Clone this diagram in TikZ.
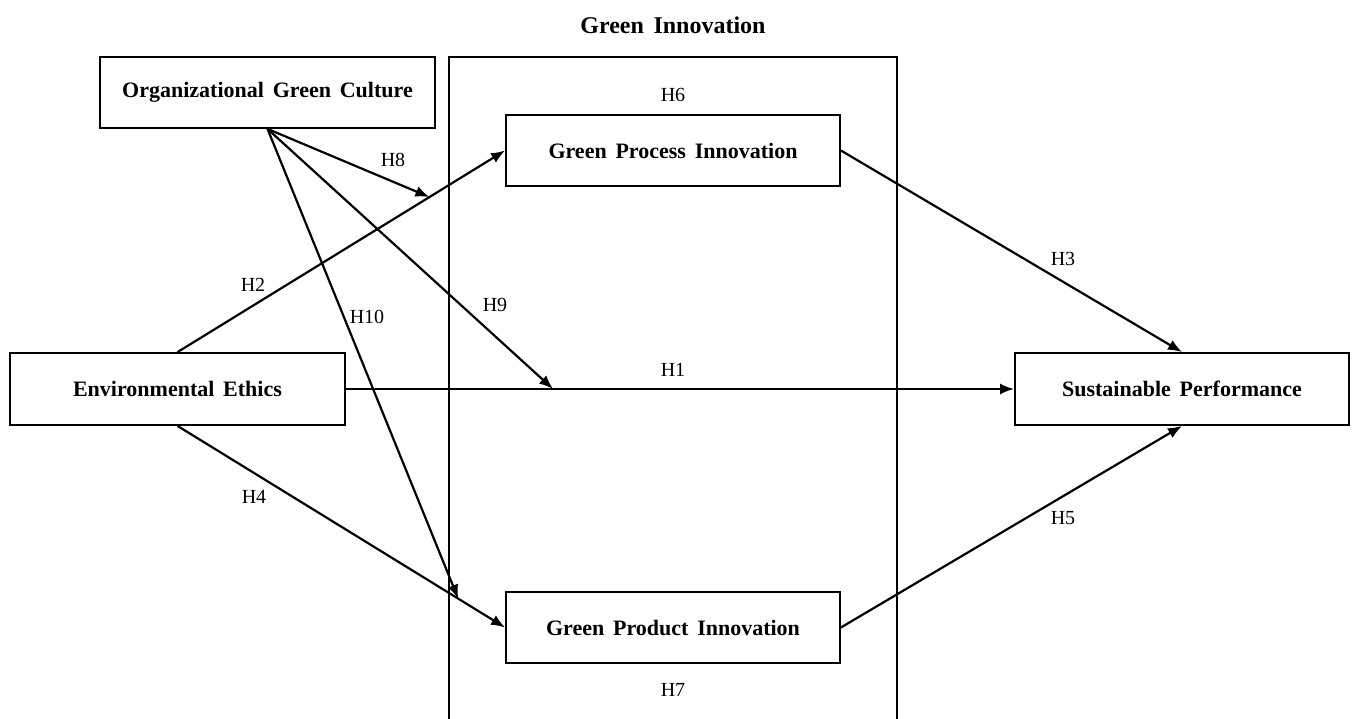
\documentclass[tikz,border=0pt]{standalone}
\usepackage{fontspec}
\setmainfont{Liberation Serif}[WordSpace={1.6}]
\usetikzlibrary{arrows.meta,calc}
\begin{document}
\begin{tikzpicture}[x=1pt,y=-1pt,
  box/.style={draw,line width=1.8pt,minimum width=334pt,minimum height=71pt,inner sep=0pt,font=\fontsize{22}{26}\selectfont\bfseries},
  arr/.style={line width=2.2pt,-{Latex[length=14pt,width=11pt]}},
  lab/.style={font=\fontsize{20}{24}\selectfont,inner sep=0pt}]
\useasboundingbox (0,0) rectangle (1352,719);
\fill[white] (0,0) rectangle (1352,719);
% green innovation frame
\draw[line width=1.8pt] (449,722) -- (449,57) -- (897,57) -- (897,722);
\node[lab,font=\fontsize{24}{28}\selectfont\bfseries] (title) at (673,25) {Green Innovation};
% boxes
\node[box,minimum width=335pt] (ogc) at (267.5,92.5) {Organizational Green Culture};
\node[box] (gpi) at (673,150.5) {Green Process Innovation};
\node[box] (gpd) at (673,627.5) {Green Product Innovation};
\node[box,minimum width=335pt,minimum height=72pt] (ee) at (177.5,389) {Environmental Ethics};
\node[box,minimum height=72pt] (sp) at (1182,389) {Sustainable Performance};
% main paths
\draw[arr] (ee.north) -- (gpi.west);
\draw[arr] (ee.east) -- (sp.west);
\draw[arr] (ee.south) -- (gpd.west);
\draw[arr] (gpi.east) -- (sp.north);
\draw[arr] (gpd.east) -- (sp.south);
% moderation end points
\coordinate (m8) at ($(ee.north)!0.769!(gpi.west)$);
\coordinate (m9) at ($(ee.east)!0.31!(sp.west)$);
\coordinate (m10) at ($(ee.south)!0.857!(gpd.west)$);
\draw[arr] (ogc.south) -- (m8);
\draw[arr] (ogc.south) -- (m9);
\draw[arr] (ogc.south) -- (m10);
% labels
\node[lab] (h1) at (673,370) {H1};
\node[lab] (h2) at (253,285) {H2};
\node[lab] (h3) at (1063,259) {H3};
\node[lab] (h4) at (254,497) {H4};
\node[lab] (h5) at (1063,518) {H5};
\node[lab] (h6) at (673,95) {H6};
\node[lab] (h7) at (673,690) {H7};
\node[lab] (h8) at (393,160) {H8};
\node[lab] (h9) at (495,305) {H9};
\node[lab] (h10) at (367,317) {H10};
\end{tikzpicture}
\end{document}
